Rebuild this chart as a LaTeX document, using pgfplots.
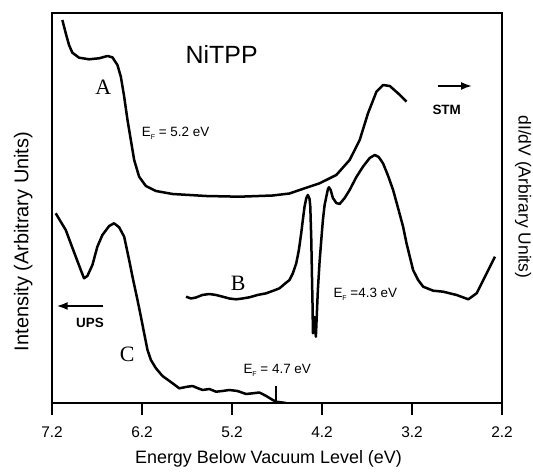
\documentclass[border=0pt]{standalone}
\usepackage{pgfplots}
\pgfplotsset{compat=1.18}
\usetikzlibrary{arrows.meta}
\usepackage{fontspec}
\setmainfont{Liberation Sans}
\newfontfamily\serif{Liberation Serif}
\newcommand{\Fsub}{\raisebox{-0.4ex}{\fontsize{7}{7}\selectfont F}}

\begin{document}
\begin{tikzpicture}[x=1bp,y=1bp]
\useasboundingbox (0,0) rectangle (533,473);
\begin{axis}[
    at={(52bp,70bp)}, anchor=south west,
    scale only axis,
    width=450bp, height=390bp,
    x dir=reverse,
    xmin=2.2, xmax=7.2,
    ymin=0, ymax=390,
    ytick=\empty,
    xtick={2.2,3.2,4.2,5.2,6.2,7.2},
    xticklabels={2.2,3.2,4.2,5.2,6.2,7.2},
    xtick pos=bottom,
    xtick align=outside,
    major tick length=12bp,
    major tick style={line width=2.4bp, black},
    axis line style={line width=2.8bp},
    xticklabel style={font=\fontsize{15.5}{15.5}\selectfont, yshift=-8bp},
  ]
  % curve A (STM)
  \addplot[black, line width=2.5bp, line join=round] table {
    7.085 383
    7.047 369.7
    7.011 358
    6.974 350.3
    6.899 345.3
    6.788 343.7
    6.677 344.7
    6.584 347
    6.529 345.7
    6.473 338
    6.435 326.3
    6.398 306.3
    6.361 283
    6.324 263
    6.287 243
    6.232 226.3
    6.157 217
    6.045 212
    5.860 209
    5.488 207
    5.118 206.3
    4.747 207.5
    4.561 209.5
    4.449 213
    4.227 219.7
    4.041 228
    3.893 243
    3.781 263
    3.689 289.7
    3.595 311.3
    3.522 318
    3.447 317
    3.355 309.7
    3.261 301.3
  };
  % curve B (STM)
  \addplot[black, line width=2.5bp, line join=round] table {
    5.711 106.3
    5.655 104.5
    5.600 105.5
    5.530 108
    5.452 109
    5.377 108
    5.304 106.3
    5.229 104.5
    5.154 103.7
    5.084 104.5
    5.006 105.7
    4.917 108
    4.820 109.7
    4.750 112
    4.672 114.7
    4.616 119
    4.561 123
    4.524 129.7
    4.486 139.7
    4.457 153
    4.431 169.7
    4.413 183
    4.394 196.3
    4.375 204.7
    4.357 208
    4.338 204
    4.330 196.3
    4.319 163
    4.312 129.7
    4.304 93
    4.301 69.7
    4.285 86
    4.268 66.3
    4.246 113
    4.227 141
    4.208 163
    4.190 183
    4.171 198
    4.152 206.3
    4.134 214
    4.123 215.7
    4.104 213
    4.079 205
    4.041 200
    4.004 199
    3.948 205
    3.893 213
    3.818 226
    3.745 236.3
    3.670 245
    3.614 248
    3.570 246
    3.522 239.7
    3.469 228
    3.410 213
    3.358 196
    3.299 176.3
    3.261 159.7
    3.188 133
    3.132 123
    3.076 116.3
    2.965 112.3
    2.854 111.3
    2.704 108
    2.575 103.7
    2.482 109.7
    2.389 126.3
    2.278 146.3
  };
  % curve C (UPS)
  \addplot[black, line width=2.5bp, line join=round] table {
    7.159 189.7
    7.103 181.3
    7.047 173
    6.992 159.7
    6.936 146.3
    6.880 133
    6.844 124.7
    6.807 127
    6.751 138
    6.696 156.3
    6.640 168
    6.565 177
    6.510 179.7
    6.454 175.7
    6.398 166.3
    6.343 143
    6.298 123
    6.250 103
    6.212 86.3
    6.176 69.7
    6.139 53
    6.101 43
    6.045 34.7
    5.972 27
    5.860 19.7
    5.786 14.7
    5.693 16.3
    5.638 17
    5.586 15
    5.526 13
    5.452 14
    5.377 11.3
    5.307 12
    5.229 13
    5.140 12
    5.043 9
    4.970 9.7
    4.895 10.5
    4.820 7
    4.747 3
    4.709 1.3
    4.600 0
  };
  \draw[line width=1.6bp] (axis cs:4.71,0) -- (axis cs:4.71,17);
\end{axis}

\node[font=\fontsize{25}{25}\selectfont] at (221.7,419) {NiTPP};
\node[font=\serif\fontsize{22}{22}\selectfont] at (103.3,386) {A};
\node[font=\serif\fontsize{22}{22}\selectfont] at (238.3,190) {B};
\node[font=\serif\fontsize{22}{22}\selectfont] at (127.3,119) {C};
\node[anchor=west, inner sep=0pt, font=\fontsize{13.5}{13.5}\selectfont] at (141.7,340) {E\Fsub{} = 5.2 eV};
\node[anchor=west, inner sep=0pt, font=\fontsize{13.5}{13.5}\selectfont] at (243.3,103) {E\Fsub{} = 4.7 eV};
\node[anchor=west, inner sep=0pt, font=\fontsize{13.5}{13.5}\selectfont] at (333.3,179) {E\Fsub{} =4.3 eV};
\node[font=\bfseries\fontsize{13.5}{13.5}\selectfont] at (446.7,363) {STM};
\draw[line width=1.8bp, -{Latex[length=11bp,width=8bp]}] (438,387) -- (472,387);
\node[font=\bfseries\fontsize{13.5}{13.5}\selectfont] at (90,150) {UPS};
\draw[line width=1.8bp, -{Latex[length=11bp,width=8bp]}] (103.3,167) -- (56.7,167);
\node[rotate=90, font=\fontsize{20}{20}\selectfont] at (23.3,231.5) {Intensity (Arbitrary Units)};
\node[rotate=-90, font=\fontsize{17.5}{17.5}\selectfont] at (523,276) {dI/dV (Arbirary Units)};
\node[font=\fontsize{18}{18}\selectfont] at (268.5,14) {Energy Below Vacuum Level (eV)};
\end{tikzpicture}
\end{document}
